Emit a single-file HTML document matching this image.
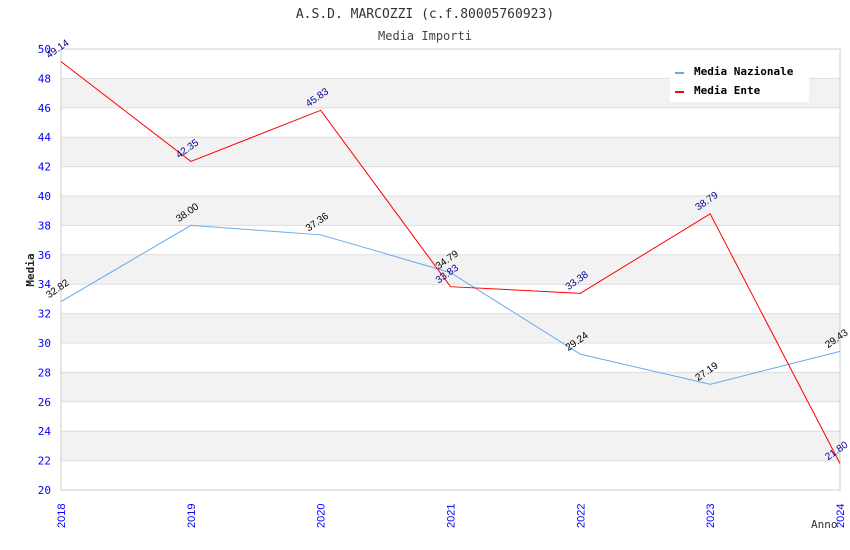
<!DOCTYPE html>
<html><head><meta charset="utf-8"><style>
body{margin:0;background:#fff;}
svg{display:block;font-family:"DejaVu Sans Mono","Liberation Mono",monospace;}
</style></head><body>
<svg id="chart" width="850" height="550" xmlns="http://www.w3.org/2000/svg">
<text x="425" y="18" text-anchor="middle" font-size="13" fill="#333">A.S.D. MARCOZZI (c.f.80005760923)</text>
<text x="425" y="40" text-anchor="middle" font-size="12" fill="#444">Media Importi</text>
<g id="bands"></g><g id="grid"></g><g id="axes"></g><g id="series"></g><g id="labels"></g>
<text transform="translate(34,270) rotate(-90)" text-anchor="middle" font-size="11" font-weight="bold" fill="#222">Media</text>
<text x="811" y="528" font-size="11" fill="#333">Anno</text>
<g>
<rect x="670" y="60" width="139" height="42" fill="#fff"/>
<rect x="675" y="72" width="9" height="2" fill="#66aaee"/>
<text x="694" y="75" font-size="11" font-weight="bold" fill="#000">Media Nazionale</text>
<rect x="675" y="91" width="9" height="2" fill="#ff0000"/>
<text x="694" y="94" font-size="11" font-weight="bold" fill="#000">Media Ente</text>
</g>
</svg>
<script>
const years=["2018","2019","2020","2021","2022","2023","2024"];
const nazionale=[32.82,38.00,37.36,34.79,29.24,27.19,29.43];
const ente=[49.14,42.35,45.83,33.83,33.38,38.79,21.80];
const yTicks=[20,22,24,26,28,30,32,34,36,38,40,42,44,46,48,50];
const NS="http://www.w3.org/2000/svg";
const L=61,R=840,T=49,B=490,yMin=20,yMax=50;
const x=i=>L+i*(R-L)/(years.length-1);
const y=v=>B-(v-yMin)*(B-T)/(yMax-yMin);
function mk(tag,attrs,parent,text){const e=document.createElementNS(NS,tag);for(const k in attrs)e.setAttribute(k,attrs[k]);if(text!==undefined)e.textContent=text;document.getElementById(parent).appendChild(e);return e;}
for(let i=0;i<yTicks.length-1;i++){
  if(i%2===1){const r=mk('rect',{x:L,y:y(yTicks[i+1]),width:R-L,height:y(yTicks[i])-y(yTicks[i+1]),fill:'#f2f2f2'},'bands');
  
  }
}
yTicks.forEach(t=>{
  const g=mk('line',{x1:L,x2:R,y1:y(t),y2:y(t),stroke:'#ddd','stroke-width':1},'grid');
  
  
  const tx=mk('text',{x:51,y:y(t)+4,'text-anchor':'end','font-size':11,fill:'#0000ff'},'axes',String(t));
  
  
});
const fr=mk('rect',{x:L,y:T,width:R-L,height:B-T,fill:'none',stroke:'#ccc'},'axes');


years.forEach((yr,i)=>{
  const tx=mk('text',{transform:`translate(${x(i)+4},${B+38}) rotate(-90)`,'font-size':11,fill:'#0000ff','font-family':'Liberation Sans, sans-serif'},'axes',yr);
  
  
});
function series(vals,color,name,lc){
  const p=mk('polyline',{points:vals.map((v,i)=>x(i)+','+y(v)).join(' '),fill:'none',stroke:color,'stroke-width':1},'series');
  
  
  vals.forEach((v,i)=>{
    const t=mk('text',{transform:`translate(${x(i)-12},${y(v)-3}) rotate(-35)`,'font-size':10,fill:lc,'font-family':'Liberation Sans, sans-serif'},'labels',v.toFixed(2));
    
    
  });
}
series(nazionale,'#66aaee','media-nazionale-line','#000');
series(ente,'#ff0000','media-ente-line','#00008b');
</script>
</body></html>
